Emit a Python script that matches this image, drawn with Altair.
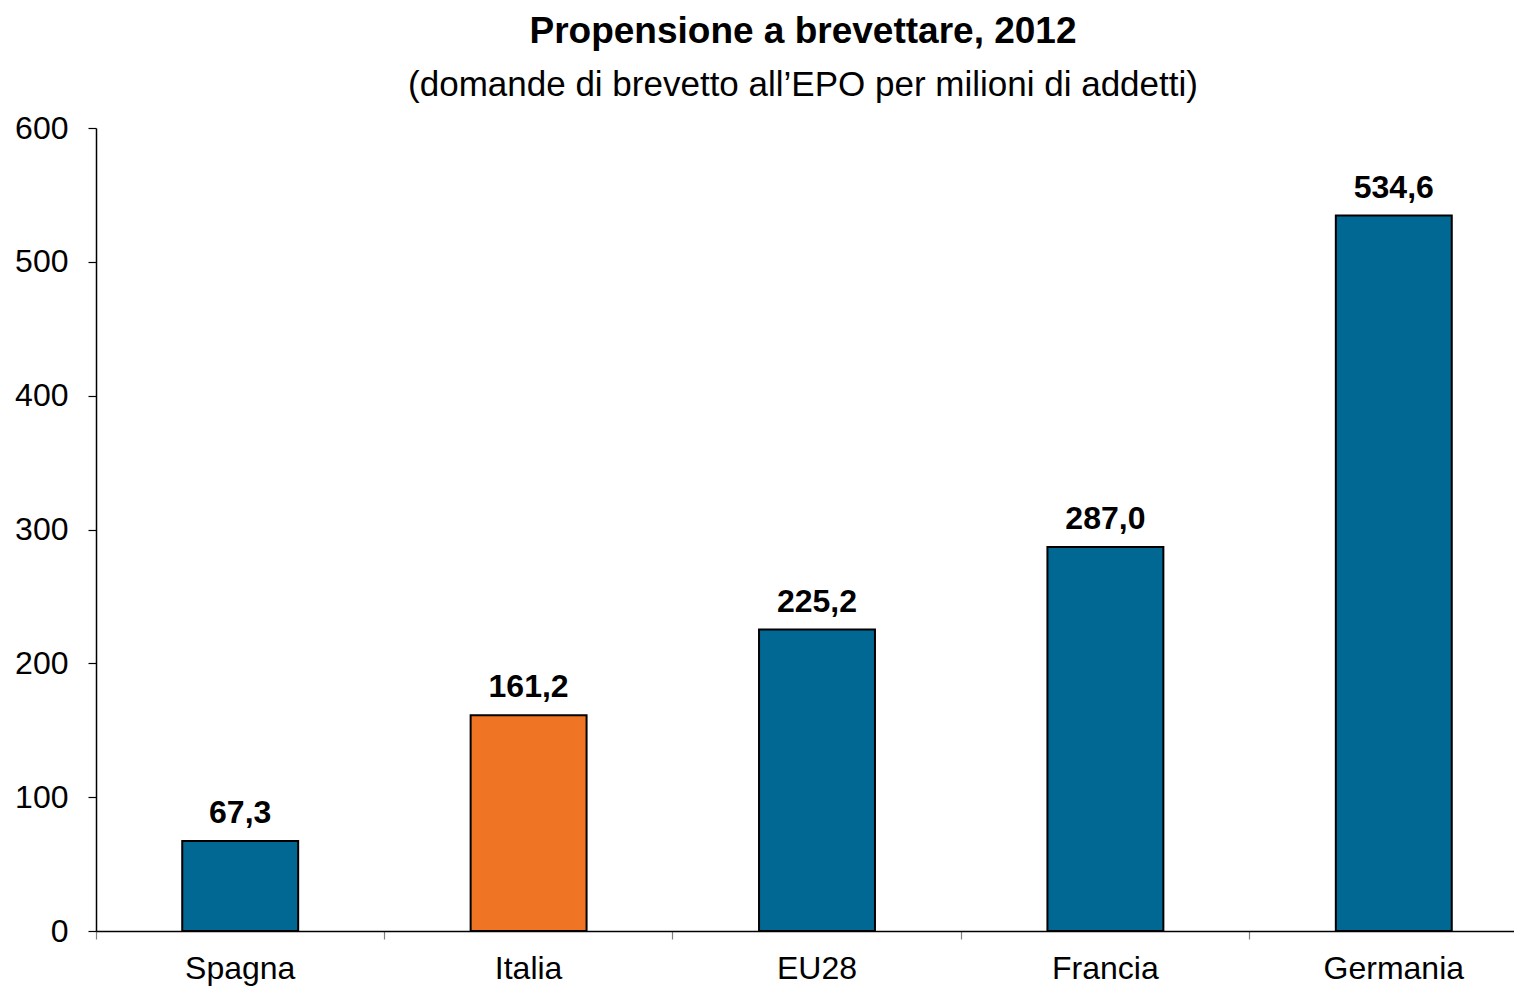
import altair as alt
import pandas as pd

categories = ["Spagna", "Italia", "EU28", "Francia", "Germania"]
values = [67.3, 161.2, 225.2, 287.0, 534.6]
bar_colors = ["#006892", "#EF7423", "#006892", "#006892", "#006892"]
y_ticks = [0, 100, 200, 300, 400, 500, 600]

df = pd.DataFrame({
    "paese": categories,
    "valore": values,
    "colore": bar_colors,
    "etichetta": [f"{v:.1f}".replace(".", ",") for v in values],
})

FONT = "Liberation Sans"

x_enc = alt.X(
    "paese:N",
    sort=categories,
    title=None,
    scale=alt.Scale(range=[0, 1442], paddingInner=0, paddingOuter=0),
    axis=alt.Axis(
        labelAngle=0,
        labelFontSize=32,
        labelFont=FONT,
        labelColor="#000000",
        labelPadding=14,
        tickColor="#808080",
        tickSize=8,
        tickWidth=1.2,
        bandPosition=0,
        domainColor="#000000",
        domainWidth=1.5,
        grid=False,
    ),
)
y_enc = alt.Y(
    "valore:Q",
    title=None,
    scale=alt.Scale(domain=[0, 600], nice=False),
    axis=alt.Axis(
        values=y_ticks,
        labelFontSize=32,
        labelFont=FONT,
        labelColor="#000000",
        labelPadding=20,
        tickColor="#000000",
        tickSize=8,
        tickWidth=1.2,
        domainColor="#000000",
        domainWidth=1.5,
        grid=False,
    ),
)

bars = alt.Chart(df).mark_bar(
    width=alt.RelativeBandSize(0.402),
    stroke="#000000",
    strokeWidth=2,
).encode(
    x=x_enc,
    y=y_enc,
    color=alt.Color("colore:N", scale=None, legend=None),
)

labels = alt.Chart(df).mark_text(
    font=FONT,
    fontSize=32,
    fontWeight="bold",
    color="#000000",
    baseline="alphabetic",
    dy=-18,
).encode(
    x=alt.X("paese:N", sort=categories),
    y=alt.Y("valore:Q"),
    text="etichetta:N",
)

chart = (
    alt.layer(bars, labels)
    .properties(
        width=1418,
        height=803,
        padding={"left": 88, "top": 120, "right": 0, "bottom": 55},
        autosize=alt.AutoSizeParams(type="none"),
        title=alt.Title(
            "Propensione a brevettare, 2012",
            subtitle="(domande di brevetto all\u2019EPO per milioni di addetti)",
            font=FONT,
            fontSize=37,
            fontWeight="bold",
            color="#000000",
            subtitleFont=FONT,
            subtitleFontSize=35,
            subtitleColor="#000000",
            subtitlePadding=17,
            anchor="middle",
            dx=-2,
            offset=8,
        ),
    )
    .configure_view(stroke=None)
)

chart.save("out.html", embed_options={"renderer": "svg", "actions": False})
